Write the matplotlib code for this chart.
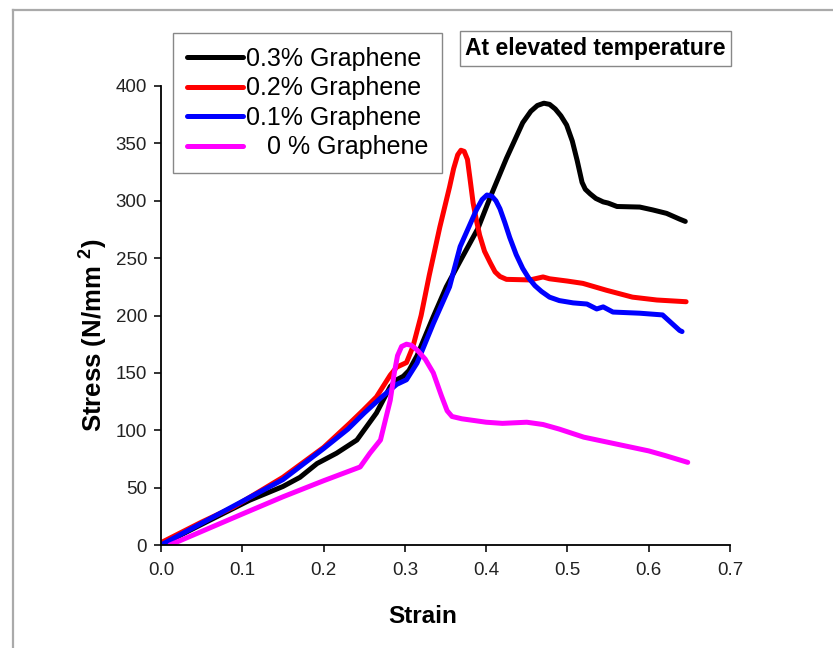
import matplotlib
matplotlib.use('Agg')
import matplotlib.pyplot as plt
from matplotlib.lines import Line2D

plt.rcParams['font.family'] = ['Liberation Sans', 'DejaVu Sans']
plt.rcParams['mathtext.fontset'] = 'custom'
plt.rcParams['mathtext.bf'] = 'Liberation Sans:bold'
plt.rcParams['mathtext.rm'] = 'Liberation Sans:bold'

# 0.3% graphene
strain_03 = [0, 0.05, 0.109, 0.15, 0.171, 0.192, 0.216, 0.241, 0.265, 0.282, 0.29, 0.298,
             0.305, 0.315, 0.325, 0.335, 0.351, 0.37, 0.39, 0.405, 0.425, 0.445, 0.455,
             0.463, 0.471, 0.478, 0.485, 0.492, 0.499, 0.506, 0.512, 0.518, 0.522, 0.528,
             0.535, 0.544, 0.55, 0.561, 0.589, 0.605, 0.622, 0.638, 0.645]
stress_03 = [0, 18, 39, 51, 59, 71, 80, 91.5, 115, 138, 144, 147,
             152, 165, 182, 199, 225, 250, 276, 303, 337, 368, 378,
             383, 385, 384, 380, 374, 366, 352, 335, 316, 310, 306,
             302, 299, 298, 295, 294.5, 292, 289, 284, 282]

# 0.2% graphene
strain_02 = [0, 0.05, 0.089, 0.15, 0.2, 0.232, 0.249, 0.265, 0.282, 0.29, 0.302, 0.31, 0.32,
             0.33, 0.343, 0.355, 0.36, 0.365, 0.369, 0.373, 0.377, 0.38, 0.384, 0.388,
             0.392, 0.398, 0.405, 0.411, 0.417, 0.425, 0.454, 0.47, 0.478, 0.5, 0.519,
             0.548, 0.58, 0.61, 0.646]
stress_02 = [2, 20, 33, 59, 85, 106, 117.6, 129, 148, 155, 159, 173, 200,
             235, 277, 312, 328, 340, 344, 343, 336, 320, 298, 283,
             270, 256, 246, 238, 234, 231.5, 231, 233.6, 232, 230, 228,
             222, 216, 213.5, 212]

# 0.1% graphene
strain_01 = [0, 0.05, 0.1, 0.15, 0.2, 0.23, 0.25, 0.27, 0.29, 0.302, 0.315, 0.335, 0.355,
             0.368, 0.388, 0.395, 0.401, 0.407, 0.412, 0.417, 0.423, 0.429, 0.437, 0.445,
             0.452, 0.46, 0.468, 0.478, 0.49, 0.507, 0.524, 0.536, 0.544, 0.556, 0.589,
             0.617, 0.638, 0.641]
stress_01 = [0, 19, 38, 57, 84, 101, 115, 128, 140, 144, 158.6, 193, 225,
             260, 292, 301, 305, 304, 300, 293, 281, 268, 253, 241,
             233, 226, 221, 216, 213, 211, 210, 205.7, 207.5, 203, 202,
             200.5, 187, 186]

# 0% graphene
strain_00 = [0.011, 0.1, 0.15, 0.2, 0.245, 0.257, 0.27, 0.282, 0.287, 0.291, 0.296, 0.302,
             0.308, 0.315, 0.325, 0.335, 0.345, 0.352, 0.358, 0.37, 0.4, 0.42, 0.45, 0.47,
             0.49, 0.52, 0.56, 0.6, 0.62, 0.648]
stress_00 = [0, 27, 42, 56, 68, 80, 91.5, 126, 150, 165, 173, 175,
             174, 170, 162, 150, 130, 117, 112, 110, 107, 106, 107, 105,
             101, 94, 88, 82, 78, 72]

labels = ['0.3% Graphene', '0.2% Graphene', '0.1% Graphene', '   0 % Graphene']
colors = ['black', '#ff0000', '#0000ff', '#ff00ff']
series = [(strain_03, stress_03), (strain_02, stress_02),
          (strain_01, stress_01), (strain_00, stress_00)]

W, H = 833, 648
fig = plt.figure(figsize=(8.33, 6.48), dpi=100)
ax = fig.add_axes([161 / W, 1 - 545 / H, 569 / W, 459 / H])

handles = []
for (xs, ys), c, lab in zip(series, colors, labels):
    ln, = ax.plot(xs, ys, color=c, lw=3.6, solid_capstyle='round',
                  solid_joinstyle='round', label=lab)
    handles.append(ln)

ax.set_xlim(0, 0.7)
ax.set_ylim(0, 400)
ax.set_xticks([0.0, 0.1, 0.2, 0.3, 0.4, 0.5, 0.6, 0.7])
ax.set_xticklabels(['0.0', '0.1', '0.2', '0.3', '0.4', '0.5', '0.6', '0.7'])
ax.set_yticks(range(0, 401, 50))
for s in ['top', 'right']:
    ax.spines[s].set_visible(False)
for s in ['left', 'bottom']:
    ax.spines[s].set_linewidth(1.3)
ax.tick_params(axis='both', direction='out', length=5, width=1.3, labelsize=13.5,
               colors='#222222', labelcolor='#222222')
ax.tick_params(axis='x', pad=7)
ax.tick_params(axis='y', pad=5)

ax.set_xlabel('Strain', fontsize=17.5, fontweight='bold')
ax.xaxis.set_label_coords(0.46, -0.155)
ax.xaxis.label.set_va('center')
ax.set_ylabel(r'Stress (N/mm $^{\mathbf{2}}$)', fontsize=18.5, fontweight='bold')
ax.yaxis.set_label_coords(-0.1195, 0.4575)
ax.yaxis.label.set_va('center')

leg = fig.legend(handles=handles, loc='upper left',
                 bbox_to_anchor=(173 / W, 1 - 33 / H), borderaxespad=0,
                 fontsize=18, handlelength=2.25, handletextpad=0.1,
                 labelspacing=0.22, borderpad=0.55, fancybox=False,
                 framealpha=1, edgecolor='#888888')
leg.get_frame().set_linewidth(1.0)

fig.text(595.5 / W, 1 - 48.5 / H, 'At elevated temperature', fontsize=16.5,
         fontweight='bold', ha='center', va='center',
         bbox=dict(boxstyle='square,pad=0.25', fc='white', ec='#888888', lw=1.0))

# gray frame lines along the top and left edge of the figure
fig.add_artist(Line2D([12.5 / W, 12.5 / W], [0, 1 - 9.5 / H], transform=fig.transFigure,
                      color='#aaaaaa', lw=1.6))
fig.add_artist(Line2D([12.5 / W, 1], [1 - 9.5 / H, 1 - 9.5 / H], transform=fig.transFigure,
                      color='#aaaaaa', lw=1.6))

fig.savefig('out.png', dpi=100)
